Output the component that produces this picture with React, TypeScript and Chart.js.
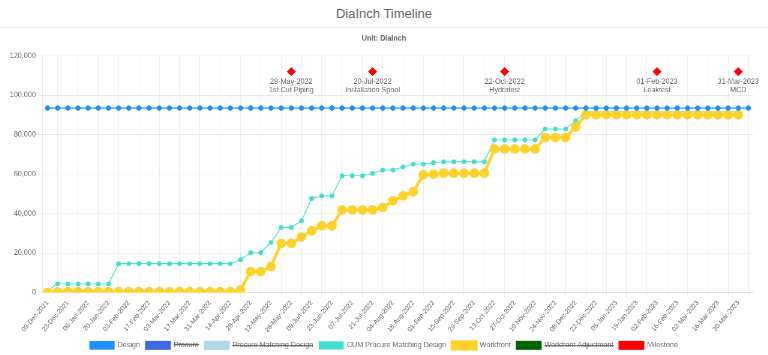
import React, { useEffect, useRef } from 'react';
import { Chart, registerables } from 'chart.js';

Chart.register(...registerables);

const categories = [
  '09-Dec-2021', '16-Dec-2021', '23-Dec-2021', '30-Dec-2021', '06-Jan-2022', '13-Jan-2022', '20-Jan-2022',
  '27-Jan-2022', '03-Feb-2022', '10-Feb-2022', '17-Feb-2022', '24-Feb-2022', '03-Mar-2022', '10-Mar-2022',
  '17-Mar-2022', '24-Mar-2022', '31-Mar-2022', '07-Apr-2022', '14-Apr-2022', '21-Apr-2022', '28-Apr-2022',
  '05-May-2022', '12-May-2022', '19-May-2022', '26-May-2022', '02-Jun-2022', '09-Jun-2022', '16-Jun-2022',
  '23-Jun-2022', '30-Jun-2022', '07-Jul-2022', '14-Jul-2022', '21-Jul-2022', '28-Jul-2022', '04-Aug-2022',
  '11-Aug-2022', '18-Aug-2022', '25-Aug-2022', '01-Sep-2022', '08-Sep-2022', '15-Sep-2022', '22-Sep-2022',
  '29-Sep-2022', '06-Oct-2022', '13-Oct-2022', '20-Oct-2022', '27-Oct-2022', '03-Nov-2022', '10-Nov-2022',
  '17-Nov-2022', '24-Nov-2022', '01-Dec-2022', '08-Dec-2022', '15-Dec-2022', '22-Dec-2022', '29-Dec-2022',
  '05-Jan-2023', '12-Jan-2023', '19-Jan-2023', '26-Jan-2023', '02-Feb-2023', '09-Feb-2023', '16-Feb-2023',
  '23-Feb-2023', '02-Mar-2023', '09-Mar-2023', '16-Mar-2023', '23-Mar-2023', '30-Mar-2023', '06-Apr-2023',
];

const designValues = [
  93500, 93500, 93500, 93500, 93500, 93500, 93500, 93500, 93500, 93500,
  93500, 93500, 93500, 93500, 93500, 93500, 93500, 93500, 93500, 93500,
  93500, 93500, 93500, 93500, 93500, 93500, 93500, 93500, 93500, 93500,
  93500, 93500, 93500, 93500, 93500, 93500, 93500, 93500, 93500, 93500,
  93500, 93500, 93500, 93500, 93500, 93500, 93500, 93500, 93500, 93500,
  93500, 93500, 93500, 93500, 93500, 93500, 93500, 93500, 93500, 93500,
  93500, 93500, 93500, 93500, 93500, 93500, 93500, 93500, 93500, 93500,
];

const procureValues: number[] = [];
const procureMatchingDesignValues: number[] = [];

const cumProcureMatchingDesignValues = [
  1000, 4400, 4400, 4400, 4400, 4400, 4400, 14600, 14600, 14600,
  14600, 14600, 14600, 14600, 14600, 14600, 14600, 14600, 14600, 16600,
  20300, 20300, 25400, 33000, 33000, 36400, 47700, 49000, 49000, 59200,
  59200, 59200, 60400, 62100, 62100, 63700, 65100, 65100, 65900, 66300,
  66300, 66300, 66300, 66300, 77400, 77400, 77400, 77400, 77400, 82900,
  82900, 82900, 87100, 91600, 91600, 91600, 91600, 91600, 91600, 91600,
  91600, 91600, 91600, 91600, 91600, 91600, 91600, 91600, 91600,
];

const workfrontValues = [
  0, 400, 400, 400, 400, 400, 400, 400, 400, 400,
  400, 400, 400, 400, 400, 400, 400, 400, 400, 1300,
  10700, 10700, 13200, 24900, 24900, 28200, 31300, 33800, 33800, 41900,
  41900, 41900, 41900, 43100, 46500, 49000, 51100, 59700, 60000, 60500,
  60500, 60500, 60500, 60500, 72800, 72800, 72800, 72800, 72800, 78600,
  78600, 78600, 84000, 90100, 90100, 90100, 90100, 90100, 90100, 90100,
  90100, 90100, 90100, 90100, 90100, 90100, 90100, 90100, 90100,
];

const workfrontAdjustmentValues: number[] = [];

const milestoneCategories = ['26-May-2022', '21-Jul-2022', '20-Oct-2022', '02-Feb-2023', '30-Mar-2023'];
const milestoneDates = ['28-May-2022', '20-Jul-2022', '22-Oct-2022', '01-Feb-2023', '31-Mar-2023'];
const milestoneNames = ['1st Cut Piping', 'Installation Spool', 'Hydrotest', 'Leaktest', 'MCD'];
const milestoneLevel = 112000;

const yMin = 0;
const yMax = 120000;
const yStep = 20000;

const SCALE = 0.6;
const CANVAS_W = Math.round(752 / SCALE);
const CANVAS_H = Math.round(327 / SCALE);

const milestoneLabelPlugin = {
  id: 'milestoneLabels',
  afterDatasetsDraw(chart: any) {
    const idx = chart.data.datasets.findIndex((d: any) => d.label === 'Milestone');
    if (idx < 0 || !chart.isDatasetVisible(idx)) return;
    const meta = chart.getDatasetMeta(idx);
    const ctx = chart.ctx;
    ctx.save();
    ctx.font = "12px 'Helvetica Neue', Helvetica, Arial, sans-serif";
    ctx.fillStyle = '#666';
    ctx.textAlign = 'center';
    ctx.textBaseline = 'middle';
    milestoneCategories.forEach((cat, k) => {
      const i = categories.indexOf(cat);
      const el = meta.data[i];
      if (!el) return;
      ctx.fillText(milestoneDates[k], el.x, el.y + 17);
      ctx.fillText(milestoneNames[k], el.x, el.y + 31);
    });
    ctx.restore();
  },
};

export default function App() {
  const canvasRef = useRef<HTMLCanvasElement | null>(null);

  useEffect(() => {
    if (!canvasRef.current) return;
    const milestoneData = categories.map((c) => (milestoneCategories.includes(c) ? milestoneLevel : null));

    const chart = new Chart(canvasRef.current, {
      type: 'line',
      data: {
        labels: categories,
        datasets: [
          {
            label: 'Design',
            data: designValues,
            borderColor: '#1E90FF',
            backgroundColor: '#1E90FF',
            pointBackgroundColor: '#1E90FF',
            pointBorderColor: '#1E90FF',
            borderWidth: 2,
            pointRadius: 3.4,
            order: 0,
          },
          {
            label: 'Procure',
            data: procureValues,
            borderColor: '#4169E1',
            backgroundColor: '#4169E1',
            hidden: true,
            order: 0,
          },
          {
            label: 'Procure Matching Design',
            data: procureMatchingDesignValues,
            borderColor: '#ADD8E6',
            backgroundColor: '#ADD8E6',
            hidden: true,
            order: 0,
          },
          {
            label: 'CUM Procure Matching Design',
            data: cumProcureMatchingDesignValues,
            borderColor: '#40E0D0',
            backgroundColor: '#40E0D0',
            pointBackgroundColor: '#40E0D0',
            pointBorderColor: '#40E0D0',
            borderWidth: 1.5,
            pointRadius: 3.2,
            order: 1,
          },
          {
            label: 'Workfront',
            data: workfrontValues,
            borderColor: '#FFD22A',
            backgroundColor: '#FFD22A',
            pointBackgroundColor: '#FFD22A',
            pointBorderColor: '#FFD22A',
            borderWidth: 5,
            pointRadius: 5.5,
            order: 0,
          },
          {
            label: 'Workfront Adjustment',
            data: workfrontAdjustmentValues,
            borderColor: '#006400',
            backgroundColor: '#006400',
            hidden: true,
            order: 0,
          },
          {
            label: 'Milestone',
            data: milestoneData,
            borderColor: '#FF0000',
            backgroundColor: '#FF0000',
            pointBackgroundColor: '#FF0000',
            pointBorderColor: '#FF0000',
            pointStyle: 'rectRot',
            pointRadius: 7,
            showLine: false,
            order: 0,
          },
        ],
      },
      options: {
        responsive: false,
        devicePixelRatio: 1,
        animation: false,
        plugins: {
          title: {
            display: true,
            text: 'Unit: DiaInch',
            font: { size: 12, weight: 'bold' },
            color: '#666',
            padding: { top: 10, bottom: 22 },
          },
          legend: {
            position: 'bottom',
            labels: {
              boxWidth: 40,
              boxHeight: 12,
              color: '#666',
              font: { size: 12 },
              sort: (a: any, b: any) => a.datasetIndex - b.datasetIndex,
            },
          },
          tooltip: { enabled: false },
        },
        scales: {
          x: {
            offset: true,
            grid: { offset: true, color: 'rgba(0,0,0,0.08)' },
            ticks: { color: '#666', font: { size: 11 }, maxRotation: 50, autoSkip: true },
          },
          y: {
            min: yMin,
            max: yMax,
            grid: { color: 'rgba(0,0,0,0.08)' },
            ticks: { stepSize: yStep, color: '#666', font: { size: 12 } },
          },
        },
      },
      plugins: [milestoneLabelPlugin],
    } as any);

    return () => chart.destroy();
  }, []);

  return (
    <div style={{ position: 'absolute', left: 0, top: 0, width: 768, height: 355, background: '#fff', overflow: 'hidden' }}>
      <div
        style={{
          position: 'absolute',
          left: 0,
          top: 0,
          width: 768,
          height: 27,
          borderBottom: '1px solid #eeeeee',
          textAlign: 'center',
          lineHeight: '28px',
          fontSize: 13,
          color: '#666',
          fontFamily: "'Liberation Sans', Arial, sans-serif",
        }}
      >
        DiaInch Timeline
      </div>
      <div style={{ position: 'absolute', left: 8, top: 28, width: 752, height: 327, overflow: 'hidden' }}>
        <canvas
          ref={canvasRef}
          width={CANVAS_W}
          height={CANVAS_H}
          style={{ display: 'block', transform: `scale(${SCALE})`, transformOrigin: '0 0' }}
        />
      </div>
    </div>
  );
}
